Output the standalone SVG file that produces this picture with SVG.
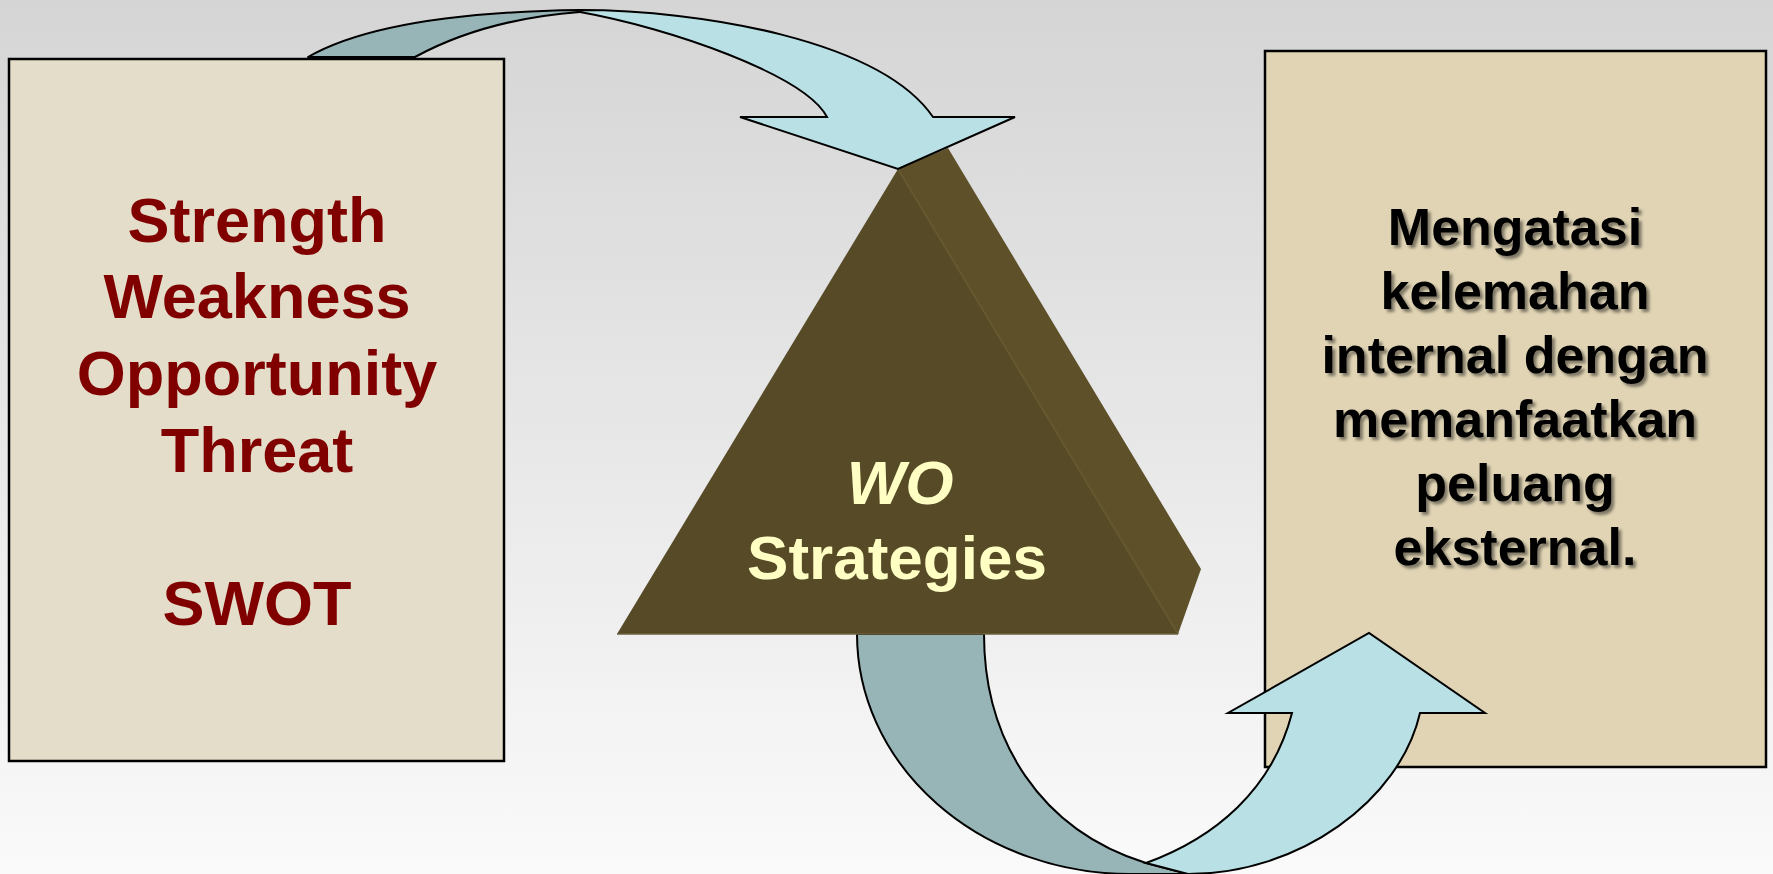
<svg xmlns="http://www.w3.org/2000/svg" width="1773" height="874" viewBox="0 0 1773 874">
<defs>
<linearGradient id="bg" x1="0" y1="0" x2="0" y2="1">
<stop offset="0" stop-color="#D5D5D5"/>
<stop offset="1" stop-color="#FAFAFA"/>
</linearGradient>
<filter id="shadow" x="-10%" y="-10%" width="120%" height="130%">
<feDropShadow dx="3" dy="3" stdDeviation="1.5" flood-color="#000" flood-opacity="0.45"/>
</filter>
</defs>
<style>
.box{stroke:#000;stroke-width:2.5}
.dark{fill:#97B4B7;stroke:#000;stroke-width:2;stroke-linejoin:round}
.light{fill:#B9E0E4;stroke:#000;stroke-width:2;stroke-linejoin:miter}
.t{font-family:"Liberation Sans",Arial,sans-serif;font-weight:bold;text-anchor:middle}
.red{fill:#800000;font-size:63px}
.blk{fill:#000;font-size:52px}
.yel{fill:#FFFFC4;font-size:62px}
</style>
<rect width="1773" height="874" fill="url(#bg)"/>

<g id="right-box">
<rect class="box" x="1265" y="51" width="501" height="716" fill="#E0D4B4"/>
<g class="t blk" filter="url(#shadow)">
<text x="1515" y="245">Mengatasi</text>
<text x="1515" y="309">kelemahan</text>
<text x="1515" y="373">internal dengan</text>
<text x="1515" y="437">memanfaatkan</text>
<text x="1515" y="501">peluang</text>
<text x="1515" y="565">eksternal.</text>
</g>
</g>

<g id="connectors">
<g id="bottom-arrow">
<path class="dark" d="M857,634 L984,634 C984,740 1040,830 1146,863 L1188,874 L1130,874 A273,240 0 0 1 857,634 Z"/>
<path class="light" d="M1146,863 L1188,874 C1300,874 1400,800 1420,713 L1485,713 L1369,633 L1228,713 L1292,713 C1272,790 1215,838 1146,863 Z"/>
</g>
</g>

<g id="triangle">
<polygon points="898,169 948,148 1201,569 1178,634" fill="#5E5029"/>
<polygon points="617,634 898,169 1178,634" fill="#574A27"/>
<line x1="898" y1="169" x2="1178" y2="634" stroke="#66582F" stroke-width="2"/>
<line x1="617" y1="634" x2="1178" y2="634" stroke="#6B6040" stroke-width="1.5"/>
<text class="t yel" x="900" y="504" font-style="italic">WO</text>
<text class="t yel" x="897" y="579">Strategies</text>
</g>

<g id="top-arrow">
<path class="dark" d="M308,57 C350,33 430,12 580,10 L580,12 C500,18 450,38 415,57 Z"/>
<path class="light" d="M580,10 C700,10 880,40 933,117 L1015,117 L898,169 L740,117 L827,117 C805,75 670,28 580,12 Z"/>
</g>

<g id="left-box">
<rect class="box" x="9" y="59" width="495" height="702" fill="#E3DDCA"/>
<g class="t red">
<text x="257" y="242">Strength</text>
<text x="257" y="318">Weakness</text>
<text x="257" y="395">Opportunity</text>
<text x="257" y="472">Threat</text>
<text x="257" y="625">SWOT</text>
</g>
</g>
</svg>
